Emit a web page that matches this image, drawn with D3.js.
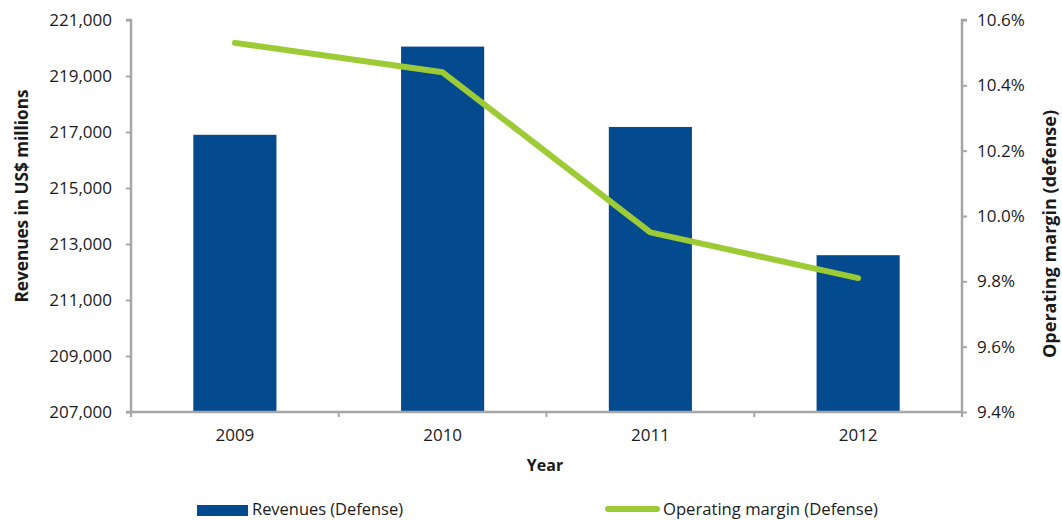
<!DOCTYPE html>
<html><head><meta charset="utf-8">
<script src="https://cdn.jsdelivr.net/npm/d3@7"></script>
<style>body{margin:0;background:#fff}svg{display:block}text{font-family:"Open Sans",sans-serif;fill:#1a1a1a}</style>
</head><body>
<svg id="c" width="1062" height="520"></svg>
<script>
const years = ["2009","2010","2011","2012"];
const revenues = [216900, 220050, 217180, 212600];
const margins = [10.53, 10.44, 9.95, 9.81];
const leftTicks = [207000,209000,211000,213000,215000,217000,219000,221000];
const rightTicks = [9.4,9.6,9.8,10.0,10.2,10.4,10.6];

const svg = d3.select("#c");
const L = 131, R = 962, T = 20, B = 412;
const xb = d3.scaleBand().domain(years).range([L, R]);
const yL = d3.scaleLinear().domain([207000, 221000]).range([B, T]);
const yR = d3.scaleLinear().domain([9.4, 10.6]).range([B, T]);
const axisColor = "#a6a6a6";
const cx = d => xb(d) + xb.bandwidth()/2;

// bars
svg.selectAll("rect.bar").data(years).join("rect")
  .attr("x", d => cx(d) - xb.bandwidth()*0.2)
  .attr("width", xb.bandwidth()*0.4)
  .attr("y", (d,i) => yL(revenues[i]))
  .attr("height", (d,i) => B - yL(revenues[i]))
  .attr("fill", "#034a8f");

// axes
const gL = svg.append("g").attr("transform", `translate(${L},0)`)
  .call(d3.axisLeft(yL).tickValues(leftTicks).tickFormat(d3.format(",")).tickSize(5).tickPadding(14));
const gR = svg.append("g").attr("transform", `translate(${R},0)`)
  .call(d3.axisRight(yR).tickValues(rightTicks).tickFormat(d => d.toFixed(1) + "%").tickSize(5).tickPadding(10));
const gX = svg.append("g").attr("transform", `translate(0,${B})`)
  .call(d3.axisBottom(xb).tickSize(0).tickPadding(17));
svg.append("g").selectAll("line").data(d3.range(years.length + 1)).join("line")
  .attr("x1", i => L + i*xb.bandwidth()).attr("x2", i => L + i*xb.bandwidth())
  .attr("y1", B).attr("y2", B + 5).attr("stroke", axisColor).attr("stroke-width", 2);

[gL, gR, gX].forEach(g => {
  g.selectAll(".domain").attr("stroke", axisColor).attr("stroke-width", 2.5);
  g.selectAll(".tick line").attr("stroke", axisColor).attr("stroke-width", 2);
  g.selectAll("text").attr("font-size", 17).attr("font-family", '"Open Sans",sans-serif').attr("fill", "#1a1a1a");
});
gL.select(".domain").attr("d", `M-5,${T}H0V${B+1}`);
gR.select(".domain").attr("d", `M5,${T}H0V${B+1}`);
gX.select(".domain").attr("d", `M${L-5},0H${R}`);

// line
const line = d3.line().x((d,i) => cx(years[i])).y(d => yR(d));
svg.append("path").datum(margins).attr("d", line)
  .attr("fill", "none").attr("stroke", "#9dcb35").attr("stroke-width", 6)
  .attr("stroke-linecap", "round").attr("stroke-linejoin", "round");

// titles
svg.append("text").attr("x", 545).attr("y", 471).attr("text-anchor", "middle")
  .attr("font-size", 16).attr("font-weight", "bold").text("Year");
svg.append("text").attr("transform", "translate(28,196) rotate(-90)").attr("text-anchor", "middle")
  .attr("font-size", 18).attr("font-weight", "bold")
  .attr("textLength", 213).attr("lengthAdjust", "spacingAndGlyphs").text("Revenues in US$ millions");
svg.append("text").attr("transform", "translate(1056,234) rotate(-90)").attr("text-anchor", "middle")
  .attr("font-size", 18).attr("font-weight", "bold")
  .attr("textLength", 248).attr("lengthAdjust", "spacingAndGlyphs").text("Operating margin (defense)");

// legend
svg.append("rect").attr("x", 197).attr("y", 505).attr("width", 51).attr("height", 11).attr("fill", "#034a8f");
svg.append("text").attr("x", 252).attr("y", 515).attr("font-size", 16)
  .attr("textLength", 151).attr("lengthAdjust", "spacingAndGlyphs").text("Revenues (Defense)");
svg.append("line").attr("x1", 608).attr("x2", 657).attr("y1", 509).attr("y2", 509)
  .attr("stroke", "#9dcb35").attr("stroke-width", 6).attr("stroke-linecap", "round");
svg.append("text").attr("x", 663).attr("y", 515).attr("font-size", 16)
  .attr("textLength", 215).attr("lengthAdjust", "spacingAndGlyphs").text("Operating margin (Defense)");
</script>
</body></html>
